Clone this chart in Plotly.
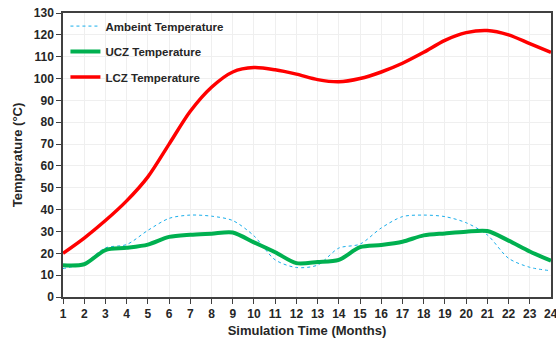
import plotly.graph_objects as go

months = list(range(1, 25))
ambient = [13, 15.5, 22.5, 24, 30.5, 36, 37.5, 37, 35, 28, 17, 13.5, 14.6, 22.4, 24.2, 31.6, 36.8, 37.5, 36.8, 34, 28.4, 17.7, 13.6, 12]
ucz = [14.5, 15, 21.5, 22.5, 24, 27.5, 28.5, 29, 29.5, 25, 20.5, 15.5, 16, 17, 22.8, 23.8, 25.3, 28.2, 29.1, 29.9, 30.2, 25.8, 20.8, 16.6]
lcz = [20, 27, 35, 44, 55, 70, 85, 96, 103, 105, 104, 102, 99.5, 98.5, 100, 103, 107, 112, 117.5, 121, 122, 120, 116, 112]

font = "Liberation Sans"
fig = go.Figure()
fig.add_trace(go.Scatter(x=months, y=ambient, mode="lines", name="Ambeint Temperature",
                         line=dict(color="#19AEEB", width=1, dash="dot", shape="spline", smoothing=0.8),
                         legendgroup="a"))
fig.add_trace(go.Scatter(x=months, y=ucz, mode="lines", name="UCZ Temperature",
                         line=dict(color="#00B050", width=4, shape="spline", smoothing=0.8),
                         legendgroup="b"))
fig.add_trace(go.Scatter(x=months, y=lcz, mode="lines", name="LCZ Temperature",
                         line=dict(color="#FF0000", width=3.5, shape="spline", smoothing=0.8),
                         legendgroup="c"))

fig.add_annotation(x=months[-1], y=0, xref="x", yref="y", text="<b>%d</b>" % months[-1],
                   showarrow=False, yanchor="top", yshift=-8,
                   font=dict(size=12, family=font, color="#262626"))

fig.update_layout(
    width=556, height=347,
    margin=dict(l=63, r=3, t=13, b=50),
    paper_bgcolor="white", plot_bgcolor="white",
    font=dict(family=font, color="#262626"),
    showlegend=True,
    legend=dict(x=0.005, y=1.005, xanchor="left", yanchor="top",
                bgcolor="rgba(0,0,0,0)", tracegroupgap=6.5,
                font=dict(size=11.5, family=font, color="#262626", weight="bold"),
                itemwidth=30),
    xaxis=dict(range=[1, 24], tickmode="array", tickvals=months[:-1], ticktext=[str(m) for m in months[:-1]],
               showgrid=True, gridcolor="#EFEFEF", gridwidth=1,
               showline=True, linecolor="#404040", linewidth=1.5, mirror=True,
               ticks="outside", ticklen=5, tickcolor="#404040",
               tickfont=dict(size=12, family=font, color="#262626", weight="bold"),
               title=dict(text="<b>Simulation Time (Months)</b>", font=dict(size=13, family=font, color="#262626"), standoff=6),
               zeroline=False),
    yaxis=dict(range=[0, 130], dtick=10,
               showgrid=True, gridcolor="#EFEFEF", gridwidth=1,
               showline=True, linecolor="#404040", linewidth=1.5, mirror=True,
               ticks="outside", ticklen=5, tickcolor="#404040",
               tickfont=dict(size=12, family=font, color="#262626", weight="bold"),
               title=dict(text="<b>Temperature (°C)</b>", font=dict(size=13, family=font, color="#262626"), standoff=8),
               zeroline=False),
)
fig.write_html("out.html")
